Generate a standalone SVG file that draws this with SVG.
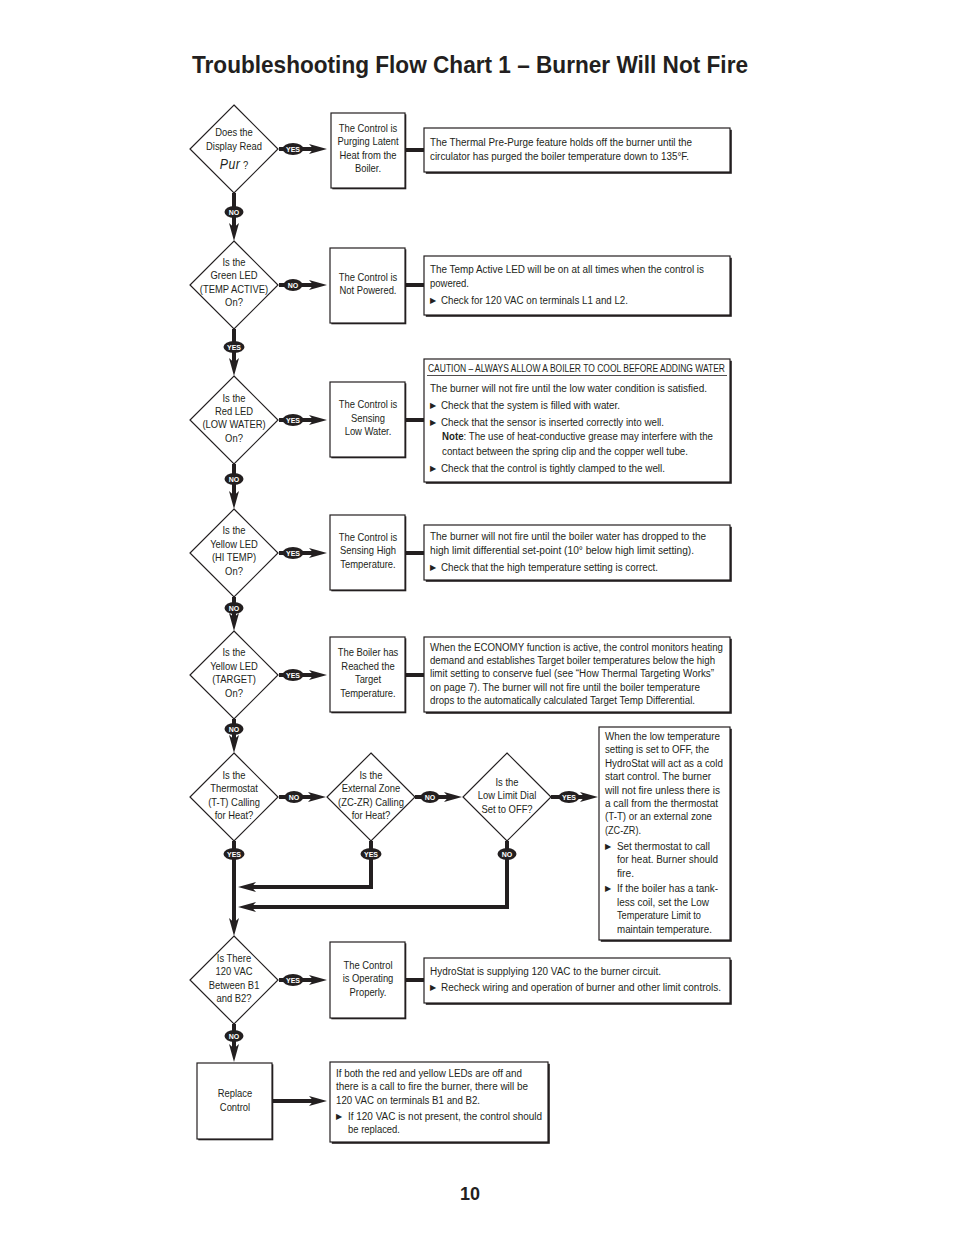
<svg xmlns="http://www.w3.org/2000/svg" width="954" height="1235" viewBox="0 0 954 1235">
<style>
.t{font-family:"Liberation Sans",Arial,sans-serif;font-size:10px;fill:#231f20}
.n{font-family:"Liberation Sans",Arial,sans-serif;font-size:10.7px;fill:#231f20;text-anchor:middle}
.bu{font-family:"DejaVu Sans",sans-serif;font-size:8px;fill:#231f20}
.lbl{font-family:"Liberation Sans",Arial,sans-serif;font-size:7px;font-weight:bold;fill:#fff;text-anchor:middle}
.ov{fill:#231f20}
.wire{stroke:#231f20;stroke-width:4;fill:none}
.arr{stroke:#231f20;stroke-width:4;fill:none;marker-end:url(#ah)}
.box{fill:#fff;stroke:#231f20;stroke-width:1.2}
.sh{fill:#231f20}
.dia{fill:#fff;stroke:#231f20;stroke-width:1.2}
.title{font-family:"Liberation Sans",Arial,sans-serif;font-weight:bold;fill:#231f20}
</style>
<defs>
<marker id="ah" markerUnits="userSpaceOnUse" markerWidth="18" markerHeight="11" refX="7" refY="5.5" orient="auto" viewBox="0 0 18 11">
<path d="M0,0.5 L18,5.5 L0,10.5 L4.5,5.5 z" fill="#231f20"/>
</marker>
</defs>
<rect width="954" height="1235" fill="#fff"/>
<text class="title" x="192" y="73" font-size="23.5" textLength="556" lengthAdjust="spacingAndGlyphs">Troubleshooting Flow Chart 1 – Burner Will Not Fire</text>

<g id="connectors">
<path class="wire" d="M406,150 H424 M406,285 H424 M406,420 H424 M406,553 H424 M406,675 H424 M406,980 H424"/>
<path class="arr" d="M279,149 H316"/>
<path class="arr" d="M234,193 V230"/>
<path class="arr" d="M279,285 H316"/>
<path class="arr" d="M234,329 V365"/>
<path class="arr" d="M279,420 H316"/>
<path class="arr" d="M234,464 V498"/>
<path class="arr" d="M279,553 H316"/>
<path class="arr" d="M234,597 V620"/>
<path class="arr" d="M279,675 H316"/>
<path class="arr" d="M234,719 V742"/>
<path class="arr" d="M279,797 H315"/>
<path class="arr" d="M415,797 H451"/>
<path class="arr" d="M551,797 H587"/>
<path class="arr" d="M234,841 V925"/>
<path class="arr" d="M371,841 V887 H249"/>
<path class="arr" d="M507,841 V907 H249"/>
<path class="arr" d="M279,980 H316"/>
<path class="arr" d="M234,1024 V1051"/>
<path class="arr" d="M273,1101 H316"/>
<g>
<ellipse class="ov" cx="293" cy="149" rx="10.5" ry="6"/><text class="lbl" x="293" y="151.5">YES</text>
<ellipse class="ov" cx="234" cy="212" rx="9.5" ry="6"/><text class="lbl" x="234" y="214.5">NO</text>
<ellipse class="ov" cx="293" cy="285" rx="9.5" ry="6"/><text class="lbl" x="293" y="287.5">NO</text>
<ellipse class="ov" cx="234" cy="347" rx="10.5" ry="6"/><text class="lbl" x="234" y="349.5">YES</text>
<ellipse class="ov" cx="293" cy="420" rx="10.5" ry="6"/><text class="lbl" x="293" y="422.5">YES</text>
<ellipse class="ov" cx="234" cy="479" rx="9.5" ry="6"/><text class="lbl" x="234" y="481.5">NO</text>
<ellipse class="ov" cx="293" cy="553" rx="10.5" ry="6"/><text class="lbl" x="293" y="555.5">YES</text>
<ellipse class="ov" cx="234" cy="608" rx="9.5" ry="6"/><text class="lbl" x="234" y="610.5">NO</text>
<ellipse class="ov" cx="293" cy="675" rx="10.5" ry="6"/><text class="lbl" x="293" y="677.5">YES</text>
<ellipse class="ov" cx="234" cy="729" rx="9.5" ry="6"/><text class="lbl" x="234" y="731.5">NO</text>
<ellipse class="ov" cx="294" cy="797" rx="9.5" ry="6"/><text class="lbl" x="294" y="799.5">NO</text>
<ellipse class="ov" cx="430" cy="797" rx="9.5" ry="6"/><text class="lbl" x="430" y="799.5">NO</text>
<ellipse class="ov" cx="569" cy="797" rx="10.5" ry="6"/><text class="lbl" x="569" y="799.5">YES</text>
<ellipse class="ov" cx="234" cy="854" rx="10.5" ry="6"/><text class="lbl" x="234" y="856.5">YES</text>
<ellipse class="ov" cx="371" cy="854" rx="10.5" ry="6"/><text class="lbl" x="371" y="856.5">YES</text>
<ellipse class="ov" cx="507" cy="854" rx="9.5" ry="6"/><text class="lbl" x="507" y="856.5">NO</text>
<ellipse class="ov" cx="293" cy="980" rx="10.5" ry="6"/><text class="lbl" x="293" y="982.5">YES</text>
<ellipse class="ov" cx="234" cy="1036" rx="9.5" ry="6"/><text class="lbl" x="234" y="1038.5">NO</text>
</g>
</g>

<g id="d1">
<path class="dia" d="M234,105 L278,149 L234,193 L190,149 Z"/>
<g transform="translate(234,0) scale(0.88,1)">
<text class="n" x="0" y="136.5">Does the</text>
<text class="n" x="0" y="150.5">Display Read</text>
<text class="n" x="0" y="169"><tspan font-size="14" font-style="italic" letter-spacing="0.5">Pur</tspan> ?</text>
</g>
</g>
<g id="d2">
<path class="dia" d="M234,241 L278,285 L234,329 L190,285 Z"/>
<g transform="translate(234,0) scale(0.88,1)">
<text class="n" x="0" y="266.5">Is the</text>
<text class="n" x="0" y="279.5">Green LED</text>
<text class="n" x="0" y="293.5">(TEMP ACTIVE)</text>
<text class="n" x="0" y="306.5">On?</text>
</g>
</g>
<g id="d3">
<path class="dia" d="M234,376 L278,420 L234,464 L190,420 Z"/>
<g transform="translate(234,0) scale(0.88,1)">
<text class="n" x="0" y="402.5">Is the</text>
<text class="n" x="0" y="415.5">Red LED</text>
<text class="n" x="0" y="428.5">(LOW WATER)</text>
<text class="n" x="0" y="442.5">On?</text>
</g>
</g>
<g id="d4">
<path class="dia" d="M234,509 L278,553 L234,597 L190,553 Z"/>
<g transform="translate(234,0) scale(0.88,1)">
<text class="n" x="0" y="534.5">Is the</text>
<text class="n" x="0" y="548.5">Yellow LED</text>
<text class="n" x="0" y="561.5">(HI TEMP)</text>
<text class="n" x="0" y="575.5">On?</text>
</g>
</g>
<g id="d5">
<path class="dia" d="M234,631 L278,675 L234,719 L190,675 Z"/>
<g transform="translate(234,0) scale(0.88,1)">
<text class="n" x="0" y="656.5">Is the</text>
<text class="n" x="0" y="670.5">Yellow LED</text>
<text class="n" x="0" y="683.5">(TARGET)</text>
<text class="n" x="0" y="697.5">On?</text>
</g>
</g>
<g id="d6">
<path class="dia" d="M234,753 L278,797 L234,841 L190,797 Z"/>
<g transform="translate(234,0) scale(0.88,1)">
<text class="n" x="0" y="779.5">Is the</text>
<text class="n" x="0" y="792.5">Thermostat</text>
<text class="n" x="0" y="806.5">(T-T) Calling</text>
<text class="n" x="0" y="819.5">for Heat?</text>
</g>
</g>
<g id="d6b">
<path class="dia" d="M371,753 L415,797 L371,841 L327,797 Z"/>
<g transform="translate(371,0) scale(0.88,1)">
<text class="n" x="0" y="779.5">Is the</text>
<text class="n" x="0" y="792.5">External Zone</text>
<text class="n" x="0" y="806.5">(ZC-ZR) Calling</text>
<text class="n" x="0" y="819.5">for Heat?</text>
</g>
</g>
<g id="d6c">
<path class="dia" d="M507,753 L551,797 L507,841 L463,797 Z"/>
<g transform="translate(507,0) scale(0.88,1)">
<text class="n" x="0" y="786.5">Is the</text>
<text class="n" x="0" y="799.5">Low Limit Dial</text>
<text class="n" x="0" y="813.5">Set to OFF?</text>
</g>
</g>
<g id="d7">
<path class="dia" d="M234,936 L278,980 L234,1024 L190,980 Z"/>
<g transform="translate(234,0) scale(0.88,1)">
<text class="n" x="0" y="962.5">Is There</text>
<text class="n" x="0" y="975.5">120 VAC</text>
<text class="n" x="0" y="989.5">Between B1</text>
<text class="n" x="0" y="1002.5">and B2?</text>
</g>
</g>

<g id="b1">
<rect class="sh" x="332.3" y="114.3" width="74" height="75"/>
<rect class="box" x="331" y="113" width="74" height="75"/>
<g transform="translate(368,0) scale(0.88,1)">
<text class="n" x="0" y="132.5">The Control is</text>
<text class="n" x="0" y="145.5">Purging Latent</text>
<text class="n" x="0" y="159.5">Heat from the</text>
<text class="n" x="0" y="172.5">Boiler.</text>
</g>
</g>
<g id="b2">
<rect class="sh" x="331.3" y="249.3" width="75" height="75"/>
<rect class="box" x="330" y="248" width="75" height="75"/>
<g transform="translate(368,0) scale(0.88,1)">
<text class="n" x="0" y="281.5">The Control is</text>
<text class="n" x="0" y="294.5">Not Powered.</text>
</g>
</g>
<g id="b3">
<rect class="sh" x="331.3" y="383.3" width="75" height="75"/>
<rect class="box" x="330" y="382" width="75" height="75"/>
<g transform="translate(368,0) scale(0.88,1)">
<text class="n" x="0" y="408.5">The Control is</text>
<text class="n" x="0" y="422.5">Sensing</text>
<text class="n" x="0" y="435.5">Low Water.</text>
</g>
</g>
<g id="b4">
<rect class="sh" x="331.3" y="516.3" width="75" height="75"/>
<rect class="box" x="330" y="515" width="75" height="75"/>
<g transform="translate(368,0) scale(0.88,1)">
<text class="n" x="0" y="541.5">The Control is</text>
<text class="n" x="0" y="554.5">Sensing High</text>
<text class="n" x="0" y="568.5">Temperature.</text>
</g>
</g>
<g id="b5">
<rect class="sh" x="331.3" y="638.3" width="75" height="75"/>
<rect class="box" x="330" y="637" width="75" height="75"/>
<g transform="translate(368,0) scale(0.88,1)">
<text class="n" x="0" y="656.5">The Boiler has</text>
<text class="n" x="0" y="670.5">Reached the</text>
<text class="n" x="0" y="683.5">Target</text>
<text class="n" x="0" y="697.5">Temperature.</text>
</g>
</g>
<g id="b7">
<rect class="sh" x="331.3" y="943.3" width="75" height="76"/>
<rect class="box" x="330" y="942" width="75" height="76"/>
<g transform="translate(368,0) scale(0.88,1)">
<text class="n" x="0" y="969.5">The Control</text>
<text class="n" x="0" y="982.5">is Operating</text>
<text class="n" x="0" y="996.5">Properly.</text>
</g>
</g>
<g id="replace">
<rect class="sh" x="198.3" y="1064.3" width="75" height="76"/>
<rect class="box" x="197" y="1063" width="75" height="76"/>
<g transform="translate(235,0) scale(0.88,1)">
<text class="n" x="0" y="1097.5">Replace</text>
<text class="n" x="0" y="1111.5">Control</text>
</g>
</g>

<g id="i1">
<rect class="sh" x="425.8" y="129.8" width="306" height="44"/>
<rect class="box" x="424" y="128" width="306" height="44"/>
<text class="t" x="430" y="145.5" textLength="262" lengthAdjust="spacingAndGlyphs">The Thermal Pre-Purge feature holds off the burner until the</text>
<text class="t" x="430" y="159.5" textLength="259" lengthAdjust="spacingAndGlyphs">circulator has purged the boiler temperature down to 135°F.</text>
</g>
<g id="i2">
<rect class="sh" x="425.8" y="257.8" width="306" height="59"/>
<rect class="box" x="424" y="256" width="306" height="59"/>
<text class="t" x="430" y="272.5" textLength="274" lengthAdjust="spacingAndGlyphs">The Temp Active LED will be on at all times when the control is</text>
<text class="t" x="430" y="286.5" textLength="39" lengthAdjust="spacingAndGlyphs">powered.</text>
<text class="bu" x="430" y="303">▶</text>
<text class="t" x="441" y="303.5" textLength="187" lengthAdjust="spacingAndGlyphs">Check for 120 VAC on terminals L1 and L2.</text>
</g>
<g id="i3">
<rect class="sh" x="425.8" y="360.8" width="306" height="123"/>
<rect class="box" x="424" y="359" width="306" height="123"/>
<text class="t" x="428" y="372" font-size="8.5" textLength="297" lengthAdjust="spacingAndGlyphs">CAUTION – ALWAYS ALLOW A BOILER TO COOL BEFORE ADDING WATER</text>
<line x1="427" y1="375.5" x2="727" y2="375.5" stroke="#231f20" stroke-width="0.8"/>
<text class="t" x="430" y="391.5" textLength="277" lengthAdjust="spacingAndGlyphs">The burner will not fire until the low water condition is satisfied.</text>
<text class="bu" x="430" y="408">▶</text>
<text class="t" x="441" y="408.5" textLength="179" lengthAdjust="spacingAndGlyphs">Check that the system is filled with water.</text>
<text class="bu" x="430" y="425">▶</text>
<text class="t" x="441" y="425.5" textLength="223" lengthAdjust="spacingAndGlyphs">Check that the sensor is inserted correctly into well.</text>
<text class="t" x="442" y="439.5" textLength="271" lengthAdjust="spacingAndGlyphs"><tspan font-weight="bold">Note</tspan>: The use of heat-conductive grease may interfere with the</text>
<text class="t" x="442" y="454.5" textLength="246" lengthAdjust="spacingAndGlyphs">contact between the spring clip and the copper well tube.</text>
<text class="bu" x="430" y="471">▶</text>
<text class="t" x="441" y="471.5" textLength="224" lengthAdjust="spacingAndGlyphs">Check that the control is tightly clamped to the well.</text>
</g>
<g id="i4">
<rect class="sh" x="425.8" y="526.8" width="306" height="55"/>
<rect class="box" x="424" y="525" width="306" height="55"/>
<text class="t" x="430" y="539.5" textLength="276" lengthAdjust="spacingAndGlyphs">The burner will not fire until the boiler water has dropped to the</text>
<text class="t" x="430" y="553.5" textLength="264" lengthAdjust="spacingAndGlyphs">high limit differential set-point (10° below high limit setting).</text>
<text class="bu" x="430" y="570">▶</text>
<text class="t" x="441" y="570.5" textLength="217" lengthAdjust="spacingAndGlyphs">Check that the high temperature setting is correct.</text>
</g>
<g id="i5">
<rect class="sh" x="425.8" y="638.8" width="306" height="75"/>
<rect class="box" x="424" y="637" width="306" height="75"/>
<text class="t" x="430" y="650.5" textLength="293" lengthAdjust="spacingAndGlyphs">When the ECONOMY function is active, the control monitors heating</text>
<text class="t" x="430" y="663.5" textLength="285" lengthAdjust="spacingAndGlyphs">demand and establishes Target boiler temperatures below the high</text>
<text class="t" x="430" y="676.5" textLength="284" lengthAdjust="spacingAndGlyphs">limit setting to conserve fuel (see “How Thermal Targeting Works”</text>
<text class="t" x="430" y="690.5" textLength="270" lengthAdjust="spacingAndGlyphs">on page 7). The burner will not fire until the boiler temperature</text>
<text class="t" x="430" y="703.5" textLength="265" lengthAdjust="spacingAndGlyphs">drops to the automatically calculated Target Temp Differential.</text>
</g>
<g id="i6">
<rect class="sh" x="600.8" y="728.8" width="131" height="213"/>
<rect class="box" x="599" y="727" width="131" height="213"/>
<text class="t" x="605" y="739.5" textLength="115" lengthAdjust="spacingAndGlyphs">When the low temperature</text>
<text class="t" x="605" y="752.5" textLength="104" lengthAdjust="spacingAndGlyphs">setting is set to OFF, the</text>
<text class="t" x="605" y="766.5" textLength="118" lengthAdjust="spacingAndGlyphs">HydroStat will act as a cold</text>
<text class="t" x="605" y="779.5" textLength="106" lengthAdjust="spacingAndGlyphs">start control. The burner</text>
<text class="t" x="605" y="793.5" textLength="115" lengthAdjust="spacingAndGlyphs">will not fire unless there is</text>
<text class="t" x="605" y="806.5" textLength="113" lengthAdjust="spacingAndGlyphs">a call from the thermostat</text>
<text class="t" x="605" y="819.5" textLength="107" lengthAdjust="spacingAndGlyphs">(T-T) or an external zone</text>
<text class="t" x="605" y="833.5" textLength="36" lengthAdjust="spacingAndGlyphs">(ZC-ZR).</text>
<text class="bu" x="605" y="849">▶</text>
<text class="t" x="617" y="849.5" textLength="93" lengthAdjust="spacingAndGlyphs">Set thermostat to call</text>
<text class="t" x="617" y="862.5" textLength="101" lengthAdjust="spacingAndGlyphs">for heat. Burner should</text>
<text class="t" x="617" y="876.5" textLength="17" lengthAdjust="spacingAndGlyphs">fire.</text>
<text class="bu" x="605" y="891">▶</text>
<text class="t" x="617" y="891.5" textLength="101" lengthAdjust="spacingAndGlyphs">If the boiler has a tank-</text>
<text class="t" x="617" y="905.5" textLength="92" lengthAdjust="spacingAndGlyphs">less coil, set the Low</text>
<text class="t" x="617" y="918.5" textLength="84" lengthAdjust="spacingAndGlyphs">Temperature Limit to</text>
<text class="t" x="617" y="932.5" textLength="95" lengthAdjust="spacingAndGlyphs">maintain temperature.</text>
</g>
<g id="i7">
<rect class="sh" x="425.8" y="959.8" width="306" height="45"/>
<rect class="box" x="424" y="958" width="306" height="45"/>
<text class="t" x="430" y="974.5" textLength="231" lengthAdjust="spacingAndGlyphs">HydroStat is supplying 120 VAC to the burner circuit.</text>
<text class="bu" x="430" y="990">▶</text>
<text class="t" x="441" y="990.5" textLength="280" lengthAdjust="spacingAndGlyphs">Recheck wiring and operation of burner and other limit controls.</text>
</g>
<g id="i8">
<rect class="sh" x="331.8" y="1063.8" width="218" height="80"/>
<rect class="box" x="330" y="1062" width="218" height="80"/>
<text class="t" x="336" y="1076.5" textLength="186" lengthAdjust="spacingAndGlyphs">If both the red and yellow LEDs are off and</text>
<text class="t" x="336" y="1089.5" textLength="192" lengthAdjust="spacingAndGlyphs">there is a call to fire the burner, there will be</text>
<text class="t" x="336" y="1103.5" textLength="144" lengthAdjust="spacingAndGlyphs">120 VAC on terminals B1 and B2.</text>
<text class="bu" x="336" y="1119">▶</text>
<text class="t" x="348" y="1119.5" textLength="194" lengthAdjust="spacingAndGlyphs">If 120 VAC is not present, the control should</text>
<text class="t" x="348" y="1132.5" textLength="52" lengthAdjust="spacingAndGlyphs">be replaced.</text>
</g>

<text class="title" x="470" y="1200" font-size="18" text-anchor="middle">10</text>
</svg>
